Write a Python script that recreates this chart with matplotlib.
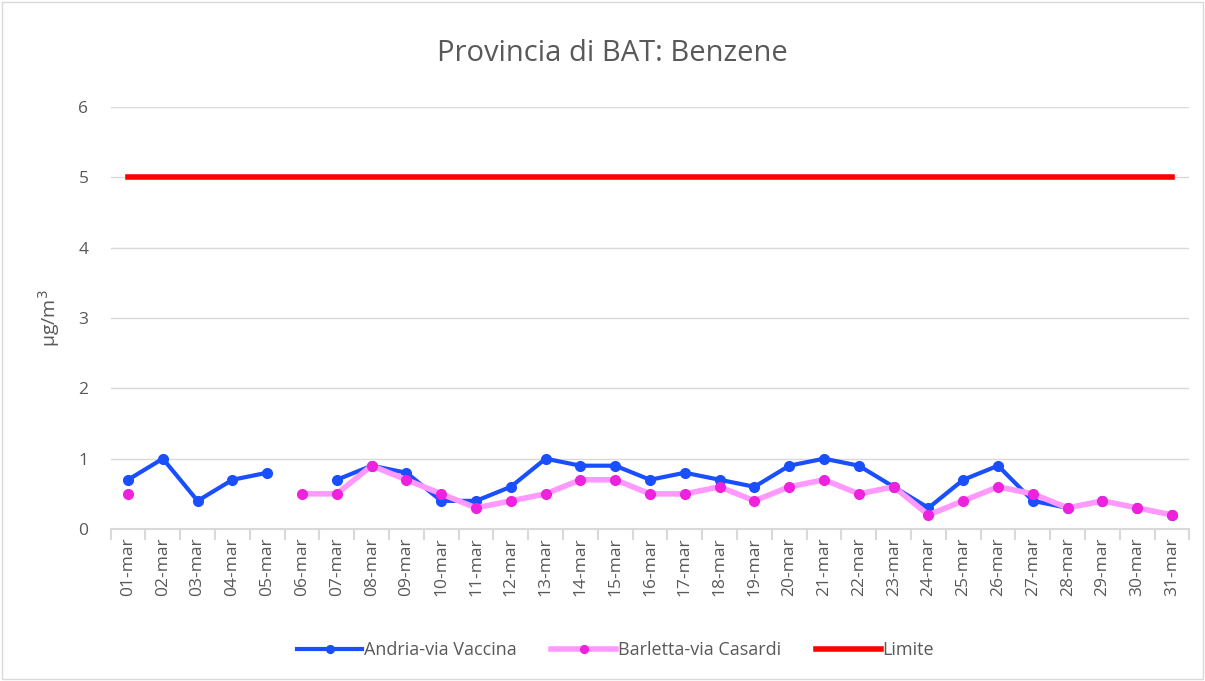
import numpy as np
import matplotlib.pyplot as plt
from matplotlib.patches import Rectangle

days = ['%02d-mar' % d for d in range(1, 32)]
nan = np.nan
andria = [0.7, 1.0, 0.4, 0.7, 0.8, nan, 0.7, 0.9, 0.8, 0.4,
          0.4, 0.6, 1.0, 0.9, 0.9, 0.7, 0.8, 0.7, 0.6, 0.9,
          1.0, 0.9, 0.6, 0.3, 0.7, 0.9, 0.4, 0.3, 0.4, 0.3, 0.2]
barletta = [0.5, nan, nan, nan, nan, 0.5, 0.5, 0.9, 0.7, 0.5,
            0.3, 0.4, 0.5, 0.7, 0.7, 0.5, 0.5, 0.6, 0.4, 0.6,
            0.7, 0.5, 0.6, 0.2, 0.4, 0.6, 0.5, 0.3, 0.4, 0.3, 0.2]
limite = [5] * 31

plt.rcParams['font.family'] = ['Open Sans', 'DejaVu Sans']
txt = '#595959'
grid = '#d9d9d9'

fig = plt.figure(figsize=(12.05, 6.81), dpi=100)
ax = fig.add_axes([0.0918, 0.2232, 0.8953, 0.6197])
x = np.arange(len(days))

ax.plot(x, andria, color='#1a4fff', lw=3, marker='o', ms=7, label='Andria-via Vaccina', zorder=3)
ax.plot(x, barletta, color='#ff99ff', lw=4, marker='o', ms=7, mfc='#ee22dd', mec='#ee22dd',
        label='Barletta-via Casardi', zorder=4)
ax.plot(x, limite, color='#ff0000', lw=4, label='Limite', zorder=5)

ax.set_xlim(-0.5, len(days) - 0.5)
ax.set_ylim(0, 6)
ax.set_yticks(range(7))
ax.yaxis.grid(True, color=grid, lw=1)
ax.set_axisbelow(True)
for s in ['top', 'right', 'left']:
    ax.spines[s].set_visible(False)
ax.spines['bottom'].set_color(grid)
ax.spines['bottom'].set_linewidth(1.5)

ax.set_xticks(x)
ax.set_xticklabels(days, rotation=90, fontsize=12.5, color=txt)
ax.set_xticks(np.arange(-0.5, len(days)), minor=True)
ax.tick_params(axis='x', which='major', length=0, pad=6)
ax.tick_params(axis='x', which='minor', length=8, color=grid, width=1.5)
ax.tick_params(axis='y', length=0, labelsize=12.5, labelcolor=txt, pad=16)

ax.set_ylabel('µg/m$^3$', fontsize=14, color=txt, labelpad=12)
fig.text(0.508, 0.922, 'Provincia di BAT: Benzene', fontsize=21, color=txt,
         ha='center', va='center')

fig.legend(loc='center', bbox_to_anchor=(0.511, 0.045), ncol=3, frameon=False,
           fontsize=13, labelcolor=txt, handlelength=3.6, handletextpad=0.1,
           columnspacing=1.9, markerscale=0.8)

fig.patches.append(Rectangle((0.002, 0.003), 0.996, 0.994, transform=fig.transFigure,
                             fill=False, edgecolor=grid, lw=1))

fig.savefig('out.png', dpi=100)
